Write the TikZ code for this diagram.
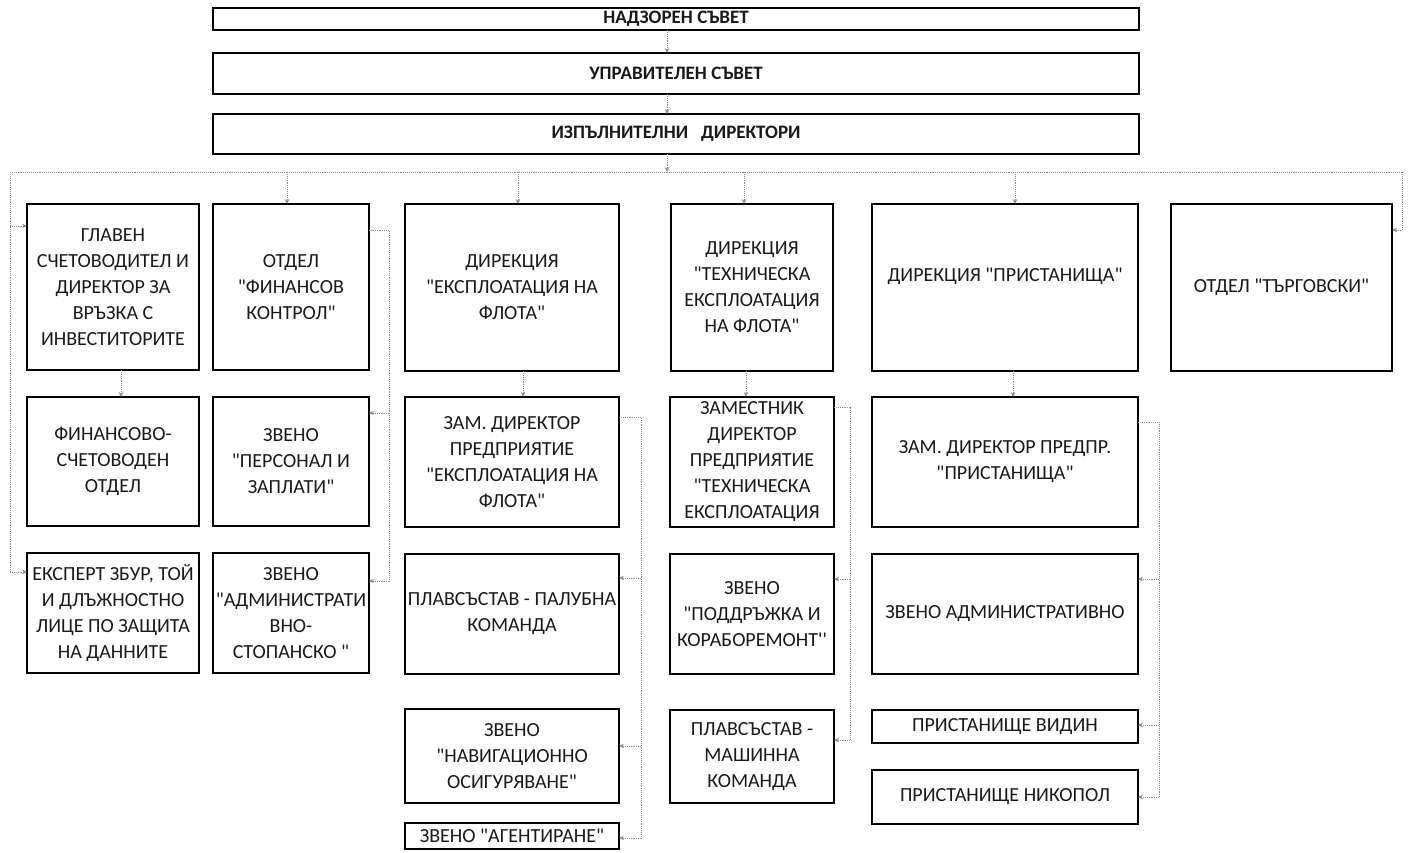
\documentclass[tikz,border=0pt]{standalone}
\usepackage{fontspec}
\newfontfamily\calfont{Carlito}
\usetikzlibrary{arrows.meta,calc}
\tikzset{
  box/.style={draw=black, line width=2.2pt, inner sep=0pt, outer sep=0pt, align=center,
    font=\calfont\fontsize{20}{26}\selectfont, text=black!90},
  topbox/.style={box, font=\calfont\bfseries\fontsize{19}{22}\selectfont},
  conn/.style={draw=black!45, densely dotted, line width=0.9pt},
  arr/.style={conn, -{Stealth[length=5pt,width=4.5pt]}}
}
\newcommand{\bx}[7][box]{\node[#1, minimum width=#4pt, minimum height=#5pt] (#6) at (#2,#3) {#7};}
\begin{document}
\begin{tikzpicture}[x=1pt,y=-1pt]
\useasboundingbox (0,0) rectangle (1411,852);
% top boxes
\bx[topbox]{676}{19}{926}{22}{top1}{НАДЗОРЕН СЪВЕТ}
\bx[topbox]{676}{73.5}{926}{41}{top2}{УПРАВИТЕЛЕН СЪВЕТ}
\bx[topbox]{676}{134}{926}{40}{top3}{ИЗПЪЛНИТЕЛНИ\ \ \ ДИРЕКТОРИ}
% left group
\bx{113}{287}{172}{166}{glav}{ГЛАВЕН\\СЧЕТОВОДИТЕЛ И\\ДИРЕКТОР ЗА\\ВРЪЗКА С\\ИНВЕСТИТОРИТЕ}
\bx{291}{287}{156}{166}{fin}{ОТДЕЛ\\"ФИНАНСОВ\\КОНТРОЛ"}
\bx{113}{461.5}{172}{129}{fso}{ФИНАНСОВО-\\СЧЕТОВОДЕН\\ОТДЕЛ}
\bx{291}{461.5}{156}{129}{pers}{ЗВЕНО\\"ПЕРСОНАЛ И\\ЗАПЛАТИ"}
\bx{113}{613}{172}{120}{exp}{ЕКСПЕРТ ЗБУР, ТОЙ\\И ДЛЪЖНОСТНО\\ЛИЦЕ ПО ЗАЩИТА\\НА ДАННИТЕ}
\bx{291}{613}{156}{120}{adm}{ЗВЕНО\\"АДМИНИСТРАТИ\\ВНО-\\СТОПАНСКО "}
% fleet exploitation
\bx{512}{287.5}{214}{167}{dexp}{ДИРЕКЦИЯ\\"ЕКСПЛОАТАЦИЯ НА\\ФЛОТА"}
\bx{512}{462}{214}{130}{zexp}{ЗАМ. ДИРЕКТОР\\ПРЕДПРИЯТИЕ\\"ЕКСПЛОАТАЦИЯ НА\\ФЛОТА"}
\bx{512}{614}{214}{120}{pal}{ПЛАВСЪСТАВ - ПАЛУБНА\\КОМАНДА}
\bx{512}{756}{214}{94}{nav}{ЗВЕНО\\"НАВИГАЦИОННО\\ОСИГУРЯВАНЕ"}
\bx{512}{836}{214}{26}{agt}{ЗВЕНО "АГЕНТИРАНЕ"}
% technical
\bx{752}{287.5}{162}{167}{dteh}{ДИРЕКЦИЯ\\"ТЕХНИЧЕСКА\\ЕКСПЛОАТАЦИЯ\\НА ФЛОТА"}
\bx{752}{462}{164}{130}{zteh}{ЗАМЕСТНИК\\ДИРЕКТОР\\ПРЕДПРИЯТИЕ\\"ТЕХНИЧЕСКА\\ЕКСПЛОАТАЦИЯ}
\bx{752}{614}{164}{120}{podd}{ЗВЕНО\\"ПОДДРЪЖКА И\\КОРАБОРЕМОНТ''}
\bx{752}{756.5}{164}{93}{mash}{ПЛАВСЪСТАВ -\\МАШИННА\\КОМАНДА}
% ports
\bx{1005}{287.5}{266}{167}{dpr}{ДИРЕКЦИЯ "ПРИСТАНИЩА"\\\mbox{}}
\bx{1005}{462}{266}{130}{zpr}{ЗАМ. ДИРЕКТОР ПРЕДПР.\\"ПРИСТАНИЩА"}
\bx{1005}{614}{266}{120}{zadm}{ЗВЕНО АДМИНИСТРАТИВНО}
\bx{1005}{726.5}{266}{33}{vid}{ПРИСТАНИЩЕ ВИДИН}
\bx{1005}{797}{266}{54}{nik}{ПРИСТАНИЩЕ НИКОПОЛ}
% trade
\bx{1281.5}{287.5}{221}{167}{targ}{ОТДЕЛ "ТЪРГОВСКИ"}

% coordinates
\coordinate (bus) at (667,172);
\coordinate (busL) at (10,172);
\coordinate (busR) at (1402,172);
\coordinate (l1) at (10,226);
\coordinate (l2) at (10,572);
\coordinate (t1) at (1402,230);
\coordinate (f0) at (389,230);
\coordinate (f1) at (389,413);
\coordinate (f2) at (389,581);
\coordinate (e0) at (641,417);
\coordinate (e1) at (641,578);
\coordinate (e2) at (641,746);
\coordinate (e3) at (641,838);
\coordinate (h0) at (850,407);
\coordinate (h1) at (850,579);
\coordinate (h2) at (850,740);
\coordinate (p0) at (1159,422);
\coordinate (p1) at (1159,579);
\coordinate (p2) at (1159,725);
\coordinate (p3) at (1159,797);

% top chain
\draw[arr] ([xshift=-9pt]top1.south) -- ([xshift=-9pt]top2.north);
\draw[arr] ([xshift=-9pt]top2.south) -- ([xshift=-9pt]top3.north);
\draw[arr] ([xshift=-9pt]top3.south) -- (bus);
% bus
\draw[conn] (busL) -- (busR);
\draw[arr] ([xshift=-4pt]fin.north |- bus) -- ([xshift=-4pt]fin.north);
\draw[arr] ([xshift=6pt]dexp.north |- bus) -- ([xshift=6pt]dexp.north);
\draw[arr] ([xshift=-8pt]dteh.north |- bus) -- ([xshift=-8pt]dteh.north);
\draw[arr] ([xshift=10pt]dpr.north |- bus) -- ([xshift=10pt]dpr.north);
\draw[arr] (busR) -- (t1) -- (targ.east |- t1);
\draw[conn] (busL) -- (l2);
\draw[arr] (l1) -- (glav.west |- l1);
\draw[arr] (l2) -- (exp.west |- l2);
% left group
\draw[arr] ([xshift=8pt]glav.south) -- ([xshift=8pt]fso.north);
\draw[conn] (fin.east |- f0) -- (f0) -- (f2);
\draw[arr] (f1) -- (pers.east |- f1);
\draw[arr] (f2) -- (adm.east |- f2);
% exploitation
\draw[arr] ([xshift=11pt]dexp.south) -- ([xshift=11pt]zexp.north);
\draw[conn] (zexp.east |- e0) -- (e0) -- (e3);
\draw[arr] (e1) -- (pal.east |- e1);
\draw[arr] (e2) -- (nav.east |- e2);
\draw[arr] (e3) -- (agt.east |- e3);
% technical
\draw[arr] ([xshift=-6pt]dteh.south) -- ([xshift=-6pt]zteh.north);
\draw[conn] (zteh.east |- h0) -- (h0) -- (h2);
\draw[arr] (h1) -- (podd.east |- h1);
\draw[arr] (h2) -- (mash.east |- h2);
% ports
\draw[arr] ([xshift=8pt]dpr.south) -- ([xshift=8pt]zpr.north);
\draw[conn] (zpr.east |- p0) -- (p0) -- (p3);
\draw[arr] (p1) -- (zadm.east |- p1);
\draw[arr] (p2) -- (vid.east |- p2);
\draw[arr] (p3) -- (nik.east |- p3);
\end{tikzpicture}
\end{document}
